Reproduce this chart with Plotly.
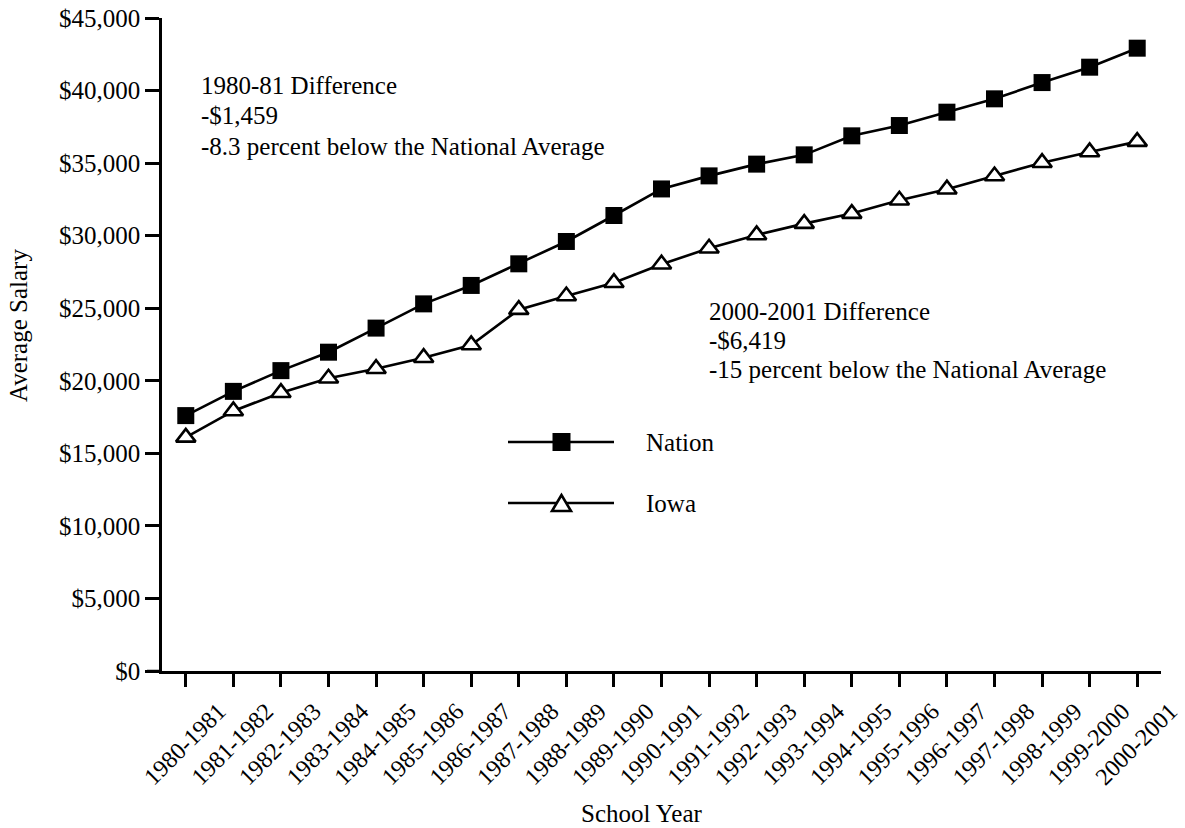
import plotly.graph_objects as go

# ---- data ----
school_years = ["1980-1981", "1981-1982", "1982-1983", "1983-1984", "1984-1985",
                "1985-1986", "1986-1987", "1987-1988", "1988-1989", "1989-1990",
                "1990-1991", "1991-1992", "1992-1993", "1993-1994", "1994-1995",
                "1995-1996", "1996-1997", "1997-1998", "1998-1999", "1999-2000",
                "2000-2001"]
nation = [17600, 19270, 20700, 21970, 23630, 25300, 26570, 28060, 29600, 31390,
          33220, 34120, 34930, 35570, 36880, 37590, 38510, 39430, 40550, 41610, 42920]
iowa = [16100, 17920, 19180, 20170, 20830, 21590, 22470, 24900, 25840, 26760,
        28030, 29130, 30050, 30830, 31520, 32440, 33200, 34110, 35030, 35770, 36480]
y_tickvals = [0, 5000, 10000, 15000, 20000, 25000, 30000, 35000, 40000, 45000]
y_ticktext = ["$0", "$5,000", "$10,000", "$15,000", "$20,000", "$25,000",
              "$30,000", "$35,000", "$40,000", "$45,000"]
note_1981 = ["1980-81 Difference", "-$1,459", "-8.3 percent below the National Average"]
note_2001 = ["2000-2001 Difference", "-$6,419", "-15 percent below the National Average"]

# ---- layout constants ----
W, H = 1185, 828
L, R, T, B = 162, 24, 18, 157
FONT = "Liberation Serif, Times New Roman, serif"
FS = 25

def px2x(px):
    return (px - L) / (W - L - R)

def py2y(py):
    return (H - B - py) / (H - T - B)

fig = go.Figure()
fig.add_trace(go.Scatter(
    x=school_years, y=nation, name="Nation", mode="lines+markers",
    line=dict(color="black", width=2.6),
    marker=dict(symbol="square", size=17, color="black"),
    showlegend=False))
fig.add_trace(go.Scatter(
    x=school_years, y=iowa, name="Iowa", mode="lines+markers",
    line=dict(color="black", width=2.6),
    marker=dict(symbol="triangle-up", size=17, color="white",
                line=dict(color="black", width=2.6)),
    showlegend=False))

shapes = []
# x axis line extension to the left of y axis
shapes.append(dict(type="line", xref="paper", yref="paper",
                   x0=px2x(147), x1=px2x(162), y0=0, y1=0,
                   line=dict(color="black", width=2.5)))
# custom legend
leg_x0, leg_x1, leg_mid = 508, 614, 561.5
leg_y_n, leg_y_i = 442, 503
for yy in (leg_y_n, leg_y_i):
    shapes.append(dict(type="line", xref="paper", yref="paper",
                       x0=px2x(leg_x0), x1=px2x(leg_x1), y0=py2y(yy), y1=py2y(yy),
                       line=dict(color="black", width=2.5)))
shapes.append(dict(type="rect", xref="paper", yref="paper",
                   x0=px2x(leg_mid - 9), x1=px2x(leg_mid + 9),
                   y0=py2y(leg_y_n - 9), y1=py2y(leg_y_n + 9),
                   fillcolor="black", line=dict(color="black", width=0)))
tri = "M {a},{b} L {c},{d} L {e},{f} Z".format(
    a=px2x(leg_mid), b=py2y(leg_y_i - 8),
    c=px2x(leg_mid - 9.5), d=py2y(leg_y_i + 8),
    e=px2x(leg_mid + 9.5), f=py2y(leg_y_i + 8))
shapes.append(dict(type="path", xref="paper", yref="paper", path=tri,
                   fillcolor="white", line=dict(color="black", width=2.6)))

txt_font = dict(family=FONT, size=FS, color="black")
annotations = []
for i, line in enumerate(note_1981):
    annotations.append(dict(text=line, xref="paper", yref="paper",
                            x=px2x(199), y=py2y(86 + 30 * i),
                            xanchor="left", yanchor="middle", showarrow=False,
                            font=txt_font))
for i, line in enumerate(note_2001):
    annotations.append(dict(text=line, xref="paper", yref="paper",
                            x=px2x(707), y=py2y(311 + 29 * i),
                            xanchor="left", yanchor="middle", showarrow=False,
                            font=txt_font))
annotations += [
    dict(text="Nation", xref="paper", yref="paper", x=px2x(644), y=py2y(leg_y_n),
         xanchor="left", yanchor="middle", showarrow=False, font=txt_font),
    dict(text="Iowa", xref="paper", yref="paper", x=px2x(644), y=py2y(leg_y_i),
         xanchor="left", yanchor="middle", showarrow=False, font=txt_font),
    dict(text="School Year", xref="paper", yref="paper", x=px2x(642), y=py2y(829),
         xanchor="center", yanchor="bottom", showarrow=False, font=txt_font),
    dict(text="Average Salary", xref="paper", yref="paper", x=px2x(18), y=py2y(326),
         xanchor="center", yanchor="middle", textangle=-90, showarrow=False,
         font=txt_font),
]

fig.update_layout(
    width=W, height=H,
    margin=dict(l=L, r=R, t=T, b=B, autoexpand=False),
    paper_bgcolor="white", plot_bgcolor="white",
    font=dict(family=FONT, size=FS, color="black"),
    shapes=shapes, annotations=annotations,
    showlegend=False,
)
fig.update_xaxes(
    type="category", range=[-0.5, len(school_years) - 0.5],
    automargin=False,
    showgrid=False, zeroline=False,
    showline=True, linecolor="black", linewidth=2.5,
    ticks="outside", ticklen=13, tickwidth=2.5, tickcolor="black",
    tickangle=-45, ticklabelshift=33, ticklabelstandoff=1,
    tickfont=dict(family=FONT, size=24, color="black"),
)
fig.update_yaxes(
    range=[0, 45000], tickvals=y_tickvals, ticktext=y_ticktext,
    automargin=False,
    showgrid=False, zeroline=False,
    showline=True, linecolor="black", linewidth=2.5,
    ticks="outside", ticklen=14, tickwidth=2.5, tickcolor="black",
    tickfont=dict(family=FONT, size=FS, color="black"),
)

fig.write_html(
    "out.html",
    config={"displayModeBar": False},
    post_script="document.body.style.margin='0';document.body.style.overflow='hidden';",
)
